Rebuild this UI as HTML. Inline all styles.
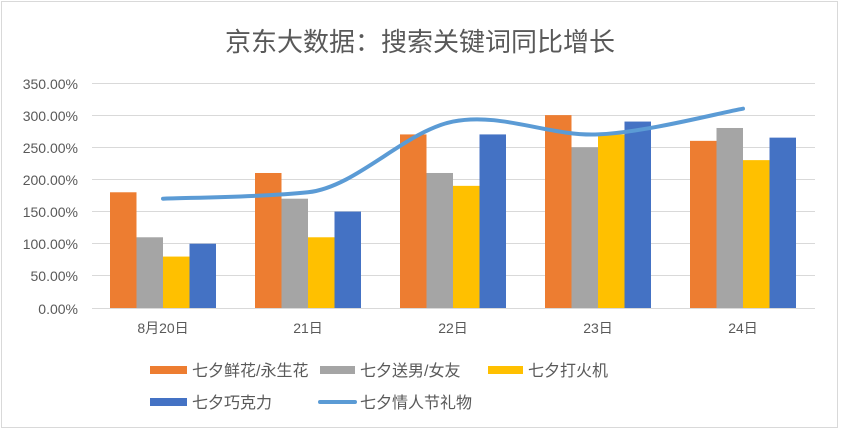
<!DOCTYPE html>
<html><head><meta charset="utf-8"><style>
html,body{margin:0;padding:0;background:#fff}
svg{display:block}
text{font-family:"Liberation Sans","Noto Sans CJK SC",sans-serif;fill:#595959}
</style></head><body>
<svg width="841" height="432" viewBox="0 0 841 432" xmlns="http://www.w3.org/2000/svg">
<rect x="1.5" y="1.5" width="836" height="426" fill="#fff" stroke="#d9d9d9"/>
<text x="420" y="51" font-size="26" text-anchor="middle">京东大数据：搜索关键词同比增长</text>
<g stroke="#d9d9d9" stroke-width="1">
<line x1="92" x2="815" y1="83.5" y2="83.5"/>
<line x1="92" x2="815" y1="115.5" y2="115.5"/>
<line x1="92" x2="815" y1="147.5" y2="147.5"/>
<line x1="92" x2="815" y1="179.5" y2="179.5"/>
<line x1="92" x2="815" y1="211.5" y2="211.5"/>
<line x1="92" x2="815" y1="243.5" y2="243.5"/>
<line x1="92" x2="815" y1="275.5" y2="275.5"/>
<line x1="92" x2="815" y1="308.5" y2="308.5"/>
</g>
<g font-size="14" text-anchor="end">
<text x="78" y="89">350.00%</text>
<text x="78" y="121">300.00%</text>
<text x="78" y="153">250.00%</text>
<text x="78" y="185">200.00%</text>
<text x="78" y="217">150.00%</text>
<text x="78" y="249">100.00%</text>
<text x="78" y="281">50.00%</text>
<text x="78" y="314">0.00%</text>
</g>
<g id="bars"></g>
<g font-size="14" text-anchor="middle">
<text x="163" y="333">8月20日</text>
<text x="308" y="333">21日</text>
<text x="453" y="333">22日</text>
<text x="598" y="333">23日</text>
<text x="743" y="333">24日</text>
</g>
<path id="ln" fill="none" stroke="#5b9bd5" stroke-width="4" stroke-linecap="round"/>
<rect x="150" y="366" width="37" height="8" fill="#ed7d31"/>
<text x="192" y="376" font-size="16">七夕鲜花/永生花</text>
<rect x="320" y="366" width="35" height="8" fill="#a5a5a5"/>
<text x="360" y="376" font-size="16">七夕送男/女友</text>
<rect x="488" y="366" width="35" height="8" fill="#ffc000"/>
<text x="528" y="376" font-size="16">七夕打火机</text>
<rect x="150" y="398" width="37" height="8" fill="#4472c4"/>
<text x="192" y="408" font-size="16">七夕巧克力</text>
<line x1="320" x2="355" y1="402" y2="402" stroke="#5b9bd5" stroke-width="4" stroke-linecap="round"/>
<text x="360" y="408" font-size="16">七夕情人节礼物</text>
</svg>
<script>
var d=[[180,110,80,100],[210,170,110,150],[270,210,190,270],[300,250,270,290],[260,280,230,265]];
var c=["#ed7d31","#a5a5a5","#ffc000","#4472c4"];
var s=0.6429,b="";
for(var i=0;i<5;i++){var x0=110+i*145;for(var j=0;j<4;j++){var h=d[i][j]*s;b+='<rect x="'+(x0+j*26.5)+'" y="'+(308-h)+'" width="26.5" height="'+h+'" fill="'+c[j]+'"/>';}}
document.getElementById("bars").innerHTML=b;
var L=[170,180,290,270,310],P=L.map(function(v,i){return[163+i*145,308-v*s]});
var M=P.map(function(q,i){var a=P[i-1]||q,r=P[i+1]||q;var f=(i==1)?0.4:1;return[(r[0]-a[0])/6,(r[1]-a[1])/6*f];});
var p="M"+P[0][0]+","+P[0][1];
for(var i=0;i<4;i++){var q=P[i],r=P[i+1];
p+=" C"+(q[0]+M[i][0])+","+(q[1]+M[i][1])+" "+(r[0]-M[i+1][0])+","+(r[1]-M[i+1][1])+" "+r[0]+","+r[1];}
document.getElementById("ln").setAttribute("d",p);
</script>
</body></html>
